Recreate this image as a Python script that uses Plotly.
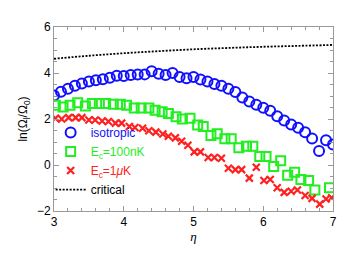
import plotly.graph_objects as go

# isotropic (blue circles)
eta_iso = [3.0, 3.1, 3.2, 3.3, 3.4, 3.5, 3.6, 3.7, 3.8, 3.9, 4.0, 4.1, 4.2, 4.3, 4.4, 4.5, 4.6, 4.7, 4.8, 4.9,
           5.0, 5.1, 5.2, 5.3, 5.4, 5.5, 5.6, 5.7, 5.8, 5.9, 6.0, 6.1, 6.2, 6.3, 6.4, 6.5, 6.6, 6.7, 6.8, 6.9, 7.0]
iso = [3.02, 3.18, 3.32, 3.45, 3.54, 3.63, 3.68, 3.73, 3.79, 3.88, 3.87, 3.91, 3.93, 3.94, 4.08, 3.97, 3.91, 4.00,
       3.83, 3.77, 3.83, 3.72, 3.63, 3.52, 3.45, 3.32, 3.17, 2.93, 2.76, 2.62, 2.49, 2.36, 2.12, 1.93, 1.76, 1.62,
       1.42, 1.15, 0.61, 1.08, 0.89]

# E_c = 100 nK (green squares)
eta_100 = [3.02, 3.13, 3.23, 3.34, 3.45, 3.55, 3.65, 3.74, 3.85, 3.95, 4.04, 4.15, 4.25, 4.36, 4.45, 4.55, 4.64,
           4.75, 4.84, 4.95, 5.06, 5.14, 5.25, 5.34, 5.45, 5.54, 5.65, 5.76, 5.85, 5.95, 6.04, 6.15, 6.25, 6.35,
           6.45, 6.54, 6.65, 6.74, 6.95]
e100 = [2.60, 2.52, 2.60, 2.71, 2.57, 2.67, 2.67, 2.67, 2.64, 2.64, 2.60, 2.48, 2.48, 2.48, 2.38, 2.31, 2.24,
        2.10, 2.00, 2.03, 1.74, 1.67, 1.28, 1.36, 1.14, 1.14, 0.75, 0.82, 0.82, 0.37, 0.37, -0.06, 0.18, -0.45,
        -0.31, -0.63, -0.67, -1.09, -0.99]

# E_c = 1 uK (red crosses)
eta_1u = [3.02, 3.11, 3.21, 3.31, 3.40, 3.50, 3.59, 3.69, 3.78, 3.88, 3.97, 4.08, 4.16, 4.27, 4.36, 4.46, 4.56,
          4.64, 4.74, 4.83, 4.92, 5.01, 5.10, 5.21, 5.30, 5.40, 5.50, 5.60, 5.69, 5.80, 5.90, 6.01, 6.10, 6.20,
          6.30, 6.40, 6.49, 6.60, 6.70, 6.81, 6.90, 6.98]
e1u = [2.03, 2.00, 2.06, 2.06, 2.06, 1.96, 1.96, 1.91, 1.89, 1.82, 1.82, 1.67, 1.63, 1.60, 1.49, 1.43, 1.35,
       1.25, 1.18, 1.03, 0.86, 0.57, 0.57, 0.33, 0.33, 0.29, -0.14, -0.20, -0.20, -0.57, -0.10, -0.67, -0.63,
       -0.99, -1.19, -1.14, -1.09, -1.33, -1.45, -1.70, -1.48, -1.42]

# critical (black dotted)
eta_crit = [3.0, 3.5, 4.0, 4.5, 5.0, 5.5, 6.0, 6.5, 7.0]
crit = [4.62, 4.75, 4.86, 4.95, 5.03, 5.09, 5.14, 5.18, 5.22]

BLUE = "#1010ff"
GREEN = "#22ee22"
RED = "#ff2020"

fig = go.Figure()
fig.add_trace(go.Scatter(
    x=eta_iso, y=iso, mode="markers",
    name=f'<span style="color:{BLUE}">isotropic</span>',
    marker=dict(symbol="circle-open", size=10, color=BLUE, line=dict(width=2, color=BLUE)),
))
fig.add_trace(go.Scatter(
    x=eta_100, y=e100, mode="markers",
    name=f'<span style="color:{GREEN}">E<sub>c</sub>=100nK</span>',
    marker=dict(symbol="square-open", size=9, color=GREEN, line=dict(width=2, color=GREEN)),
))
fig.add_trace(go.Scatter(
    x=eta_1u, y=e1u, mode="markers",
    name=f'<span style="color:{RED}">E<sub>c</sub>=1<i>μ</i>K</span>',
    marker=dict(symbol="x-thin", size=7, color=RED, line=dict(width=2.2, color=RED)),
))
fig.add_trace(go.Scatter(
    x=eta_crit, y=crit, mode="lines",
    name="critical",
    line=dict(color="black", width=1.8, dash="2px,1.5px", shape="spline"),
))

axis_common = dict(
    showline=True, linecolor="#999999", linewidth=1, mirror="ticks",
    ticks="inside", tickcolor="#999999", ticklen=5, tickwidth=1,
    showgrid=False, zeroline=False,
    tickfont=dict(family="Liberation Sans, Arial, sans-serif", size=12, color="black"),
)

fig.update_layout(
    width=349, height=257,
    margin=dict(l=46, r=24, t=15, b=54),
    paper_bgcolor="white", plot_bgcolor="white",
    font=dict(family="Liberation Sans, Arial, sans-serif", size=12, color="black"),
    xaxis=dict(range=[3, 7], tickvals=[3, 4, 5, 6, 7], ticktext=["3", "4", "5", "6", "7"],
               minor=dict(dtick=0.2, ticks="inside", ticklen=3, tickcolor="#999999"),
               title=dict(text="<i>η</i>", standoff=3, font=dict(family="Liberation Serif, Times New Roman, serif", size=13)),
               **axis_common),
    yaxis=dict(range=[-2, 6], tickvals=[-2, 0, 2, 4, 6], ticktext=["−2", "0", "2", "4", "6"],
               minor=dict(dtick=0.5, ticks="inside", ticklen=3, tickcolor="#999999"),
               title=dict(text="ln(Ω<sub>l</sub>/Ω<sub>0</sub>)", standoff=6, font=dict(size=12)),
               **axis_common),
    legend=dict(x=-0.012, y=0.505, xanchor="left", yanchor="top", bgcolor="rgba(0,0,0,0)",
                font=dict(size=12), tracegroupgap=0, itemwidth=30),
    showlegend=True,
)

fig.write_html("out.html")
